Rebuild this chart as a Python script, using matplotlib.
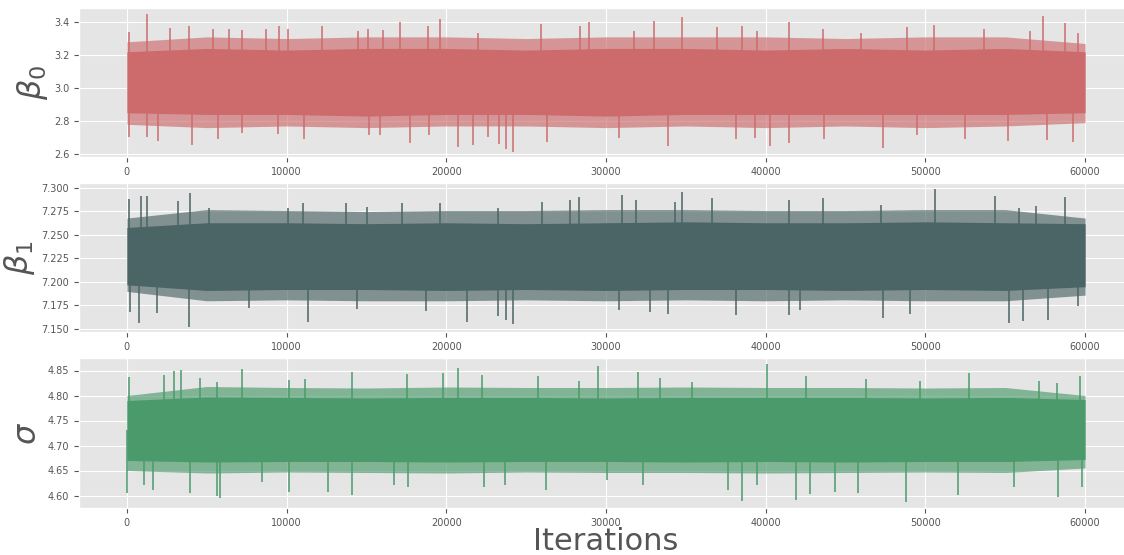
import numpy as np
import matplotlib
matplotlib.use("Agg")
import matplotlib.pyplot as plt
from matplotlib.ticker import FormatStrFormatter

# band edges read every 5000 iterations
band_iter = [0, 5000, 10000, 15000, 20000, 25000, 30000, 35000, 40000, 45000, 50000, 55000, 60000]

b0_core_hi = [3.22, 3.24, 3.23, 3.24, 3.24, 3.23, 3.24, 3.24, 3.23, 3.24, 3.23, 3.24, 3.22]
b0_core_lo = [2.85, 2.84, 2.84, 2.83, 2.84, 2.84, 2.83, 2.84, 2.84, 2.84, 2.84, 2.84, 2.85]
b0_outer_hi = [3.28, 3.31, 3.30, 3.31, 3.31, 3.30, 3.31, 3.31, 3.31, 3.30, 3.31, 3.31, 3.27]
b0_outer_lo = [2.78, 2.76, 2.77, 2.76, 2.77, 2.77, 2.76, 2.77, 2.76, 2.77, 2.76, 2.77, 2.79]

b1_core_hi = [7.258, 7.263, 7.263, 7.262, 7.263, 7.262, 7.263, 7.264, 7.263, 7.263, 7.264, 7.263, 7.262]
b1_core_lo = [7.197, 7.191, 7.192, 7.192, 7.191, 7.192, 7.191, 7.192, 7.192, 7.191, 7.192, 7.191, 7.195]
b1_outer_hi = [7.268, 7.277, 7.276, 7.275, 7.276, 7.276, 7.277, 7.277, 7.276, 7.276, 7.277, 7.277, 7.268]
b1_outer_lo = [7.190, 7.180, 7.181, 7.180, 7.180, 7.181, 7.180, 7.181, 7.180, 7.181, 7.180, 7.180, 7.186]

sg_core_hi = [4.790, 4.797, 4.796, 4.795, 4.796, 4.796, 4.795, 4.796, 4.796, 4.796, 4.795, 4.796, 4.792]
sg_core_lo = [4.670, 4.667, 4.668, 4.668, 4.667, 4.668, 4.668, 4.667, 4.668, 4.667, 4.668, 4.668, 4.672]
sg_outer_hi = [4.800, 4.818, 4.816, 4.815, 4.817, 4.816, 4.816, 4.817, 4.816, 4.816, 4.815, 4.816, 4.800]
sg_outer_lo = [4.650, 4.645, 4.647, 4.646, 4.645, 4.647, 4.646, 4.646, 4.645, 4.646, 4.647, 4.646, 4.655]

# tallest excursions
b0_up_iter = [125, 1270, 2710, 3900, 5420, 6380, 7200, 8700, 9510, 10060, 12220, 14480, 15120, 16060,
              17110, 18880, 19610, 22000, 25930, 28350, 28920, 31750, 33030, 34740, 36930, 38540,
              39470, 41450, 43580, 45940, 48820, 50570, 53660, 56580, 57390, 58730, 59570]
b0_up_val = [3.337, 3.451, 3.364, 3.374, 3.357, 3.360, 3.350, 3.357, 3.378, 3.357, 3.378, 3.347, 3.357, 3.353,
             3.398, 3.374, 3.418, 3.333, 3.388, 3.374, 3.400, 3.343, 3.404, 3.430, 3.370, 3.374,
             3.347, 3.400, 3.357, 3.333, 3.368, 3.380, 3.357, 3.343, 3.434, 3.394, 3.333]
b0_dn_iter = [150, 1250, 1960, 4090, 5700, 7190, 9470, 11120, 15150, 15850, 17740, 18940, 20720, 21660,
              22640, 23270, 23740, 24160, 26290, 30840, 33860, 38120, 39360, 40300, 41490, 43640,
              47340, 49490, 52450, 55180, 57620, 59250]
b0_dn_val = [2.705, 2.705, 2.677, 2.657, 2.689, 2.726, 2.723, 2.689, 2.716, 2.716, 2.669, 2.716, 2.645, 2.655,
             2.705, 2.661, 2.630, 2.614, 2.675, 2.700, 2.651, 2.689, 2.695, 2.649, 2.669, 2.689,
             2.634, 2.716, 2.689, 2.681, 2.685, 2.675]

b1_up_iter = [100, 900, 1250, 3230, 3920, 5170, 10060, 11050, 13700, 15010, 17210, 19610, 23260, 25980,
              27750, 28330, 30980, 31880, 34320, 34740, 36660, 41450, 43600, 47190, 50630, 54380,
              55870, 56930, 58730]
b1_up_val = [7.288, 7.291, 7.2918, 7.286, 7.2943, 7.279, 7.279, 7.2837, 7.2837, 7.280, 7.2837, 7.2844, 7.279, 7.2855,
             7.287, 7.290, 7.293, 7.287, 7.285, 7.2954, 7.2897, 7.287, 7.2897, 7.282, 7.2986, 7.2918,
             7.279, 7.281, 7.290]
b1_dn_iter = [200, 730, 1880, 3900, 7620, 11330, 14400, 18710, 21280, 23220, 23740, 24160, 30840, 32750,
              33860, 38120, 41450, 42140, 47340, 49010, 55220, 56120, 57660, 59560]
b1_dn_val = [7.168, 7.156, 7.1667, 7.1525, 7.172, 7.1578, 7.171, 7.169, 7.1578, 7.164, 7.160, 7.1553, 7.170, 7.168,
             7.1656, 7.165, 7.165, 7.170, 7.1613, 7.1656, 7.156, 7.1585, 7.1596, 7.174]

sg_up_iter = [130, 2350, 2960, 3400, 4550, 5640, 7200, 10130, 11170, 14120, 17520, 19780, 20760, 22220,
              25760, 28330, 29520, 32020, 33380, 35360, 40060, 42500, 46310, 49690, 52720, 57100,
              58250, 59710]
sg_up_val = [4.8367, 4.841, 4.8493, 4.8513, 4.836, 4.828, 4.8533, 4.831, 4.834, 4.848, 4.8433, 4.846, 4.8547, 4.8413,
             4.8393, 4.830, 4.860, 4.8467, 4.8347, 4.8267, 4.8633, 4.8393, 4.8327, 4.830, 4.846, 4.830,
             4.8247, 4.8393]
sg_dn_iter = [0, 1050, 1630, 3960, 5670, 5840, 8490, 10120, 12620, 14080, 16750, 17630, 22380, 23680,
              26240, 30040, 32290, 37650, 38490, 39470, 41870, 42750, 44370, 45760, 48800, 52050,
              55540, 58310, 59810]
sg_dn_val = [4.606, 4.621, 4.611, 4.606, 4.599, 4.5947, 4.628, 4.608, 4.608, 4.601, 4.621, 4.618, 4.618, 4.6213,
             4.6113, 4.631, 4.621, 4.611, 4.590, 4.6213, 4.5913, 4.6033, 4.608, 4.6047, 4.588, 4.6013,
             4.6167, 4.5967, 4.618]

x_ticks = [0, 10000, 20000, 30000, 40000, 50000, 60000]


def draw_trace(ax, color, core_hi, core_lo, outer_hi, outer_lo,
               up_iter, up_val, dn_iter, dn_val):
    """Draw a dense trace band: solid core, lighter fringe and the single spikes."""
    ax.fill_between(band_iter, outer_lo, outer_hi, color=color, alpha=0.65, lw=0)
    ax.fill_between(band_iter, core_lo, core_hi, color=color, lw=0)
    mid = (np.mean(core_hi) + np.mean(core_lo)) / 2
    ax.vlines(up_iter, mid, up_val, color=color, lw=1.1)
    ax.vlines(dn_iter, dn_val, mid, color=color, lw=1.1)


plt.style.use("ggplot")
fig = plt.figure(figsize=(11.24, 5.55), dpi=100)

W, H = 1124.0, 555.0
left, right = 79, 1133
panels = [(8, 157), (183, 332), (358, 508)]
axes = []
for top, bottom in panels:
    ax = fig.add_axes([left / W, 1 - bottom / H, (right - left) / W, (bottom - top) / H])
    axes.append(ax)

draw_trace(axes[0], "#CD6B6C", b0_core_hi, b0_core_lo, b0_outer_hi, b0_outer_lo,
           b0_up_iter, b0_up_val, b0_dn_iter, b0_dn_val)
draw_trace(axes[1], "#4B6465", b1_core_hi, b1_core_lo, b1_outer_hi, b1_outer_lo,
           b1_up_iter, b1_up_val, b1_dn_iter, b1_dn_val)
draw_trace(axes[2], "#4A9A6B", sg_core_hi, sg_core_lo, sg_outer_hi, sg_outer_lo,
           sg_up_iter, sg_up_val, sg_dn_iter, sg_dn_val)

axes[0].set_ylim(2.582, 3.485)
axes[0].set_yticks([2.6, 2.8, 3.0, 3.2, 3.4])
axes[0].yaxis.set_major_formatter(FormatStrFormatter("%.1f"))
axes[1].set_ylim(7.1468, 7.3053)
axes[1].set_yticks([7.150, 7.175, 7.200, 7.225, 7.250, 7.275, 7.300])
axes[1].yaxis.set_major_formatter(FormatStrFormatter("%.3f"))
axes[2].set_ylim(4.575, 4.875)
axes[2].set_yticks([4.60, 4.65, 4.70, 4.75, 4.80, 4.85])
axes[2].yaxis.set_major_formatter(FormatStrFormatter("%.2f"))

labels = [r"$\beta_0$", r"$\beta_1$", r"$\sigma$"]
for ax, lab in zip(axes, labels):
    ax.set_xlim(-3000, 63000)
    ax.set_xticks(x_ticks)
    ax.tick_params(labelsize=7, colors="#555555")
    ax.set_ylabel(lab, fontsize=23, color="#555555", labelpad=3)

fig.text(606 / W, 5 / H, "Iterations", ha="center", va="baseline", fontsize=22, color="#555555")

fig.savefig("out.png", dpi=100)
